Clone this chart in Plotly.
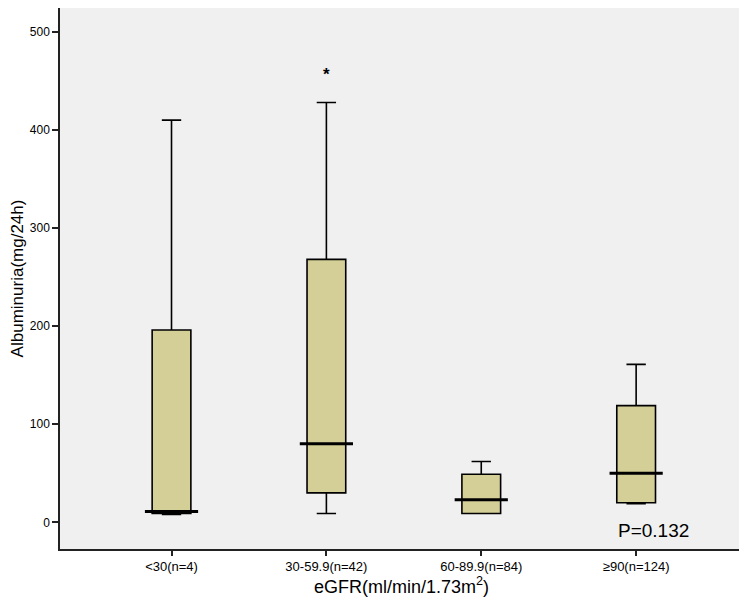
import plotly.graph_objects as go


# Groups and box statistics (mg/24h)
groups = ['<30(n=4)', '30-59.9(n=42)', '60-89.9(n=84)', '≥90(n=124)']
lower_whisker = [8, 9, 9, 19]
q1 = [9, 30, 9, 20]
median = [11, 80, 23, 50]
q3 = [196, 268, 49, 119]
upper_whisker = [410, 428, 62, 161]

# extreme value marked with an asterisk
outlier_group = ['30-59.9(n=42)']
outlier_value = [455]

p_text = 'P=0.132'

fig = go.Figure()

fig.add_trace(go.Box(
    x=groups,
    q1=q1, median=median, q3=q3,
    lowerfence=lower_whisker, upperfence=upper_whisker,
    fillcolor='#d3cf96',
    line=dict(color='black', width=1.6),
    width=0.25,
    whiskerwidth=0.5,
    boxpoints=False,
    showlegend=False,
    hoverinfo='skip',
))

# thicker median bars, as in the SPSS output
fig.add_trace(go.Scatter(
    x=groups, y=median,
    mode='markers',
    marker=dict(symbol='line-ew', size=38, line=dict(color='black', width=3)),
    showlegend=False, hoverinfo='skip',
))

fig.add_trace(go.Scatter(
    x=outlier_group, y=outlier_value,
    mode='text', text=['*'],
    textfont=dict(size=17, color='black', family='Liberation Sans', weight='bold'),
    showlegend=False,
))

fig.add_annotation(
    x=3.11, y=-8, xref='x', yref='y',
    text=p_text, showarrow=False,
    font=dict(size=19, color='black', family='Liberation Sans'),
)

# the page body adds an 8px margin, so the figure is 8px smaller than the window
fig.update_layout(
    width=739, height=597,
    margin=dict(l=52, r=4, t=0, b=56),
    paper_bgcolor='white',
    plot_bgcolor='#f0f0f0',
    font=dict(family='Liberation Sans', color='black'),
)

fig.update_xaxes(
    range=[-0.72, 3.69],
    automargin=False,
    showline=True, mirror=True, linecolor='#222', linewidth=1.5,
    ticks='outside', ticklen=5, tickcolor='#222', tickwidth=1.5,
    tickfont=dict(size=13),
    title=dict(text='eGFR(ml/min/1.73m<sup>2</sup>)', font=dict(size=18), standoff=6),
    showgrid=False, zeroline=False,
)

fig.update_yaxes(
    range=[-27.2, 524.3],
    automargin=False,
    tickvals=[0, 100, 200, 300, 400, 500],
    showline=True, mirror=True, linecolor='#222', linewidth=1.5,
    ticks='outside', ticklen=6, tickcolor='#222', tickwidth=1.5,
    tickfont=dict(size=12),
    title=dict(text='Albuminuria(mg/24h)', font=dict(size=17), standoff=12),
    showgrid=False, zeroline=False,
)

fig.write_html('out.html')
